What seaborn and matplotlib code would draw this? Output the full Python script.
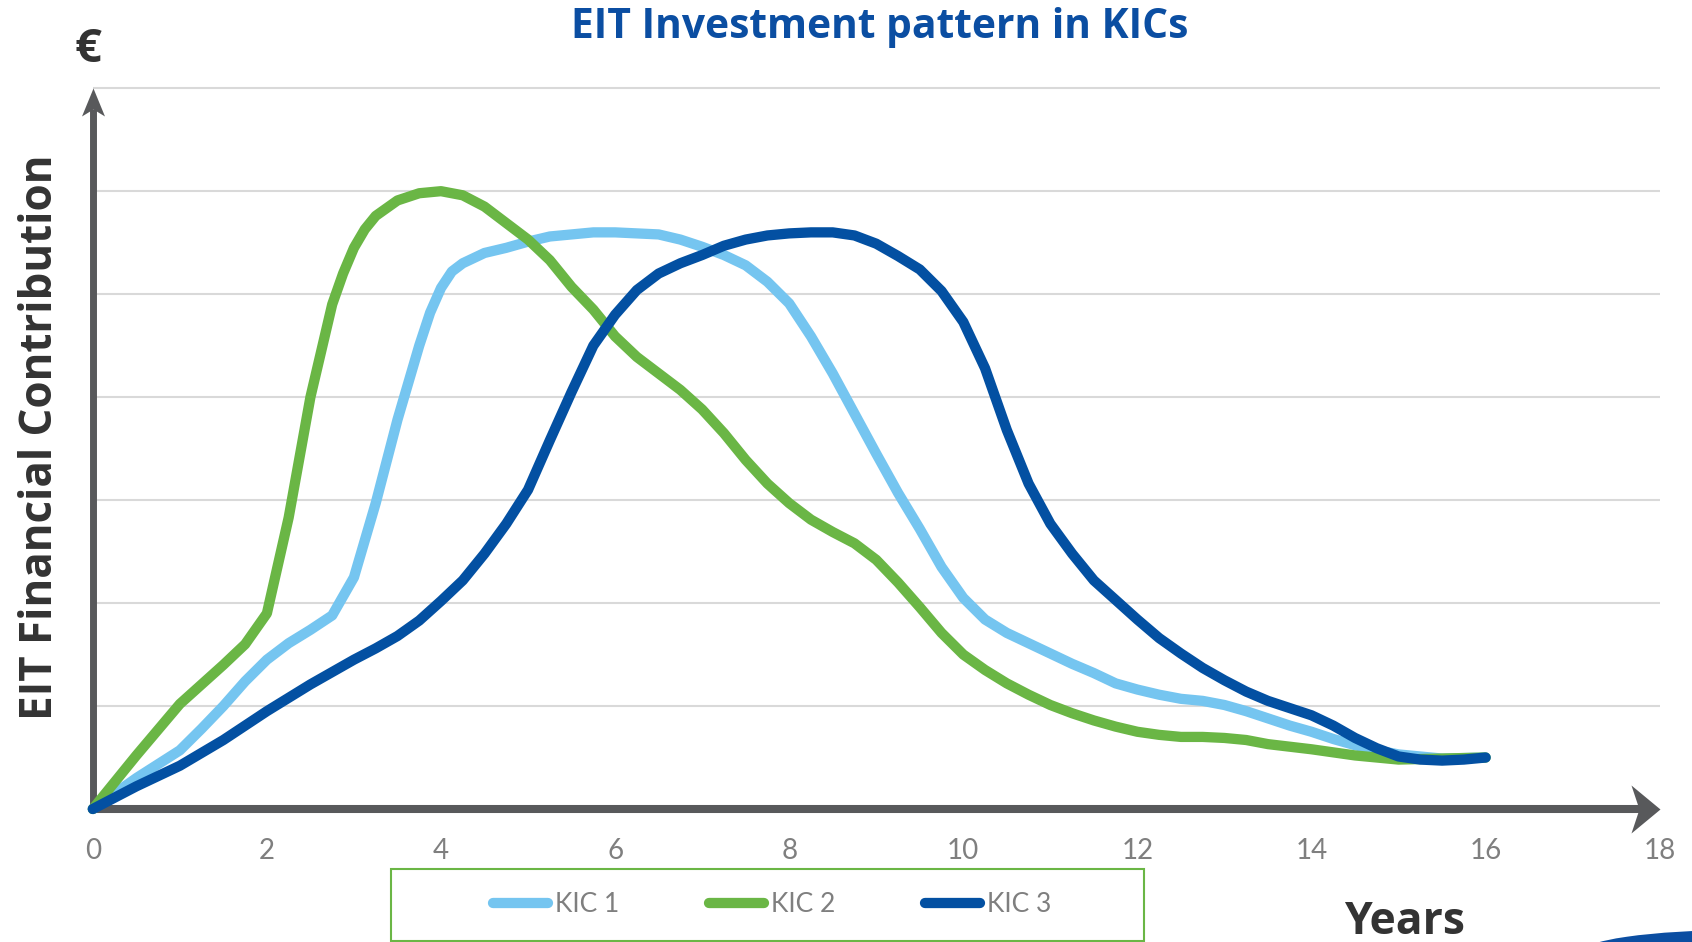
import pandas as pd
import matplotlib
matplotlib.use("Agg")
import matplotlib.pyplot as plt
import seaborn as sns
from matplotlib.path import Path
from matplotlib.patches import Rectangle, Ellipse
from matplotlib.lines import Line2D

sns.set_style("white")
plt.rcParams['font.family'] = ['Lato', 'DejaVu Sans']

# values (years, EIT contribution in gridline units)
kic1_years = [0, 0.5, 1, 1.25, 1.5, 1.75, 2, 2.25, 2.5, 2.75, 3, 3.25, 3.5, 3.75, 3.875, 4, 4.125, 4.25, 4.5, 4.75,
              5, 5.25, 5.5, 5.75, 6, 6.5, 6.75, 7, 7.25, 7.5, 7.75, 8, 8.25, 8.5, 8.75, 9, 9.25, 9.5,
              9.75, 10, 10.25, 10.5, 10.75, 11, 11.25, 11.5, 11.75, 12, 12.25, 12.5, 12.75, 13, 13.25,
              13.5, 13.75, 14, 14.25, 14.5, 14.75, 15, 15.5, 16]
kic1_values = [0, 0.3, 0.57, 0.78, 1.0, 1.24, 1.45, 1.61, 1.74, 1.88, 2.25, 2.97, 3.78, 4.5, 4.82, 5.06, 5.22, 5.3, 5.4, 5.45,
               5.51, 5.56, 5.58, 5.6, 5.6, 5.58, 5.53, 5.46, 5.38, 5.28, 5.12, 4.91, 4.59, 4.23, 3.84, 3.45, 3.07, 2.72,
               2.35, 2.05, 1.84, 1.71, 1.61, 1.51, 1.41, 1.32, 1.22, 1.16, 1.11, 1.07, 1.05, 1.01, 0.95,
               0.88, 0.81, 0.75, 0.68, 0.62, 0.57, 0.53, 0.49, 0.5]

kic2_years = [0, 0.5, 1, 1.25, 1.5, 1.75, 2, 2.25, 2.5, 2.75, 2.875, 3, 3.125, 3.25, 3.5, 3.75, 4, 4.25, 4.5, 4.75,
              5, 5.25, 5.5, 5.75, 6, 6.25, 6.5, 6.75, 7, 7.25, 7.5, 7.75, 8, 8.25, 8.5, 8.75, 9, 9.25, 9.5,
              9.75, 10, 10.25, 10.5, 10.75, 11, 11.25, 11.5, 11.75, 12, 12.25, 12.5, 12.75, 13, 13.25,
              13.5, 14, 14.5, 15, 15.5, 16]
kic2_values = [0, 0.52, 1.02, 1.21, 1.4, 1.6, 1.9, 2.83, 4.0, 4.9, 5.2, 5.45, 5.63, 5.76, 5.91, 5.98, 6.0, 5.96, 5.85, 5.69,
               5.53, 5.33, 5.07, 4.85, 4.59, 4.39, 4.23, 4.07, 3.88, 3.65, 3.39, 3.16, 2.97, 2.81, 2.69, 2.58, 2.42, 2.2, 1.96,
               1.71, 1.5, 1.35, 1.22, 1.11, 1.01, 0.93, 0.86, 0.8, 0.75, 0.72, 0.7, 0.7, 0.69, 0.67,
               0.63, 0.58, 0.52, 0.48, 0.49, 0.5]

kic3_years = [0, 0.5, 1, 1.5, 2, 2.5, 3, 3.25, 3.5, 3.75, 4, 4.25, 4.5, 4.75, 5, 5.25, 5.5, 5.75, 6, 6.25, 6.5, 6.75,
              7, 7.25, 7.5, 7.75, 8, 8.25, 8.5, 8.75, 9, 9.25, 9.5, 9.75, 10, 10.25, 10.5, 10.75, 11, 11.25,
              11.5, 11.75, 12, 12.25, 12.5, 12.75, 13, 13.25, 13.5, 13.75, 14, 14.25, 14.5, 14.75, 15, 15.25,
              15.5, 15.75, 16]
kic3_values = [0, 0.22, 0.42, 0.67, 0.95, 1.21, 1.45, 1.56, 1.68, 1.83, 2.02, 2.22, 2.48, 2.77, 3.1, 3.58, 4.05, 4.5, 4.8, 5.04,
               5.2, 5.3, 5.38, 5.47, 5.53, 5.57, 5.59, 5.6, 5.6, 5.57, 5.49, 5.37, 5.24, 5.03, 4.73, 4.28, 3.68, 3.16, 2.77, 2.48,
               2.22, 2.03, 1.84, 1.66, 1.51, 1.37, 1.25, 1.14, 1.05, 0.98, 0.91, 0.81, 0.69, 0.59, 0.51, 0.48,
               0.47, 0.48, 0.5]

series_names = ['KIC 1', 'KIC 2', 'KIC 3']
series_colors = ['#75C5F0', '#6AB645', '#0350A2']
x_ticks = list(range(0, 19, 2))

df = pd.concat([
    pd.DataFrame({'Year': kic1_years, 'Value': kic1_values, 'KIC': 'KIC 1'}),
    pd.DataFrame({'Year': kic2_years, 'Value': kic2_values, 'KIC': 'KIC 2'}),
    pd.DataFrame({'Year': kic3_years, 'Value': kic3_values, 'KIC': 'KIC 3'}),
])

W, H = 1692, 942
fig = plt.figure(figsize=(W / 100, H / 100), dpi=100)
ax = fig.add_axes([92.8 / W, 133 / H, (1659.7 - 92.8) / W, 7.2 * 102.97 / H])

axis_grey = '#58595B'
dark_text = '#333333'
title_blue = '#0B4EA2'

# curves
sns.lineplot(data=df, x='Year', y='Value', hue='KIC', hue_order=series_names,
             palette=dict(zip(series_names, series_colors)), estimator=None,
             linewidth=7.4, solid_capstyle='round', solid_joinstyle='round',
             clip_on=False, zorder=4, legend=False, ax=ax)

ax.set_xlim(0, 18)
ax.set_ylim(0, 7.2)
ax.set_xticks(x_ticks)
ax.set_yticks(range(1, 8))
ax.set_yticklabels([])
ax.tick_params(axis='x', length=0, pad=21, labelsize=20, labelcolor='#7F7F7F')
ax.tick_params(axis='y', length=0)
ax.grid(axis='y', color='#D9D9D9', linewidth=1.5)
ax.grid(axis='x', visible=False)
ax.set_xlabel('')
ax.set_ylabel('')
for s in ax.spines.values():
    s.set_visible(False)

# axis arrows
head_x = Path([(0, 0), (-29, 24), (-21, 0), (-29, -24), (0, 0)],
              [Path.MOVETO, Path.LINETO, Path.LINETO, Path.LINETO, Path.CLOSEPOLY])
head_y = Path([(0, 0), (-11.5, -28), (0, -21), (11.5, -28), (0, 0)],
              [Path.MOVETO, Path.LINETO, Path.LINETO, Path.LINETO, Path.CLOSEPOLY])
ax.plot([-0.04, 17.8], [0, 0], color=axis_grey, lw=5.8, solid_capstyle='butt', clip_on=False, zorder=3)
ax.plot([0, 0], [0, 6.8], color=axis_grey, lw=5.0, solid_capstyle='butt', clip_on=False, zorder=3)
ax.plot([18], [0], marker=head_x, markersize=41.8, color=axis_grey, mew=0, clip_on=False, zorder=3)
ax.plot([0], [7], marker=head_y, markersize=40.3, color=axis_grey, mew=0, clip_on=False, zorder=3)

# texts
fig.text(880 / W, 1 - 27 / H, 'EIT Investment pattern in KICs', ha='center', va='center',
         family='Open Sans', weight='bold', size=29.3, color=title_blue)
fig.text(88 / W, 1 - 50 / H, '€', ha='center', va='center',
         family='Open Sans', weight='bold', size=34, color=dark_text)
fig.text(41 / W, 1 - 437 / H, 'EIT Financial Contribution', ha='center', va='center', rotation=90,
         family='Open Sans', weight='bold', size=31.6, color=dark_text)
fig.text(1405 / W, 1 - 922 / H, 'Years', ha='center', va='center',
         family='Open Sans', weight='bold', size=32, color=dark_text)

# legend with its own green frame
handles = [Line2D([0], [0], color=c, lw=7.4, solid_capstyle='round') for c in series_colors]
fig.legend(handles, series_names, loc='center', bbox_to_anchor=(772 / W, 1 - 905 / H),
           ncol=3, frameon=False, fontsize=19, labelcolor='#7F7F7F',
           handlelength=2.1, handletextpad=0.25, columnspacing=3.4)
fig.add_artist(Rectangle((391 / W, 1 - 941 / H), 753 / W, 72 / H, transform=fig.transFigure,
                         fill=False, edgecolor='#6AB645', lw=1.5))

# piece of logo in the corner
fig.add_artist(Ellipse((1740 / W, 1 - 953 / H), 320 / W, 46 / H, transform=fig.transFigure,
                       color=title_blue, lw=0))

fig.savefig('out.png', dpi=100)
